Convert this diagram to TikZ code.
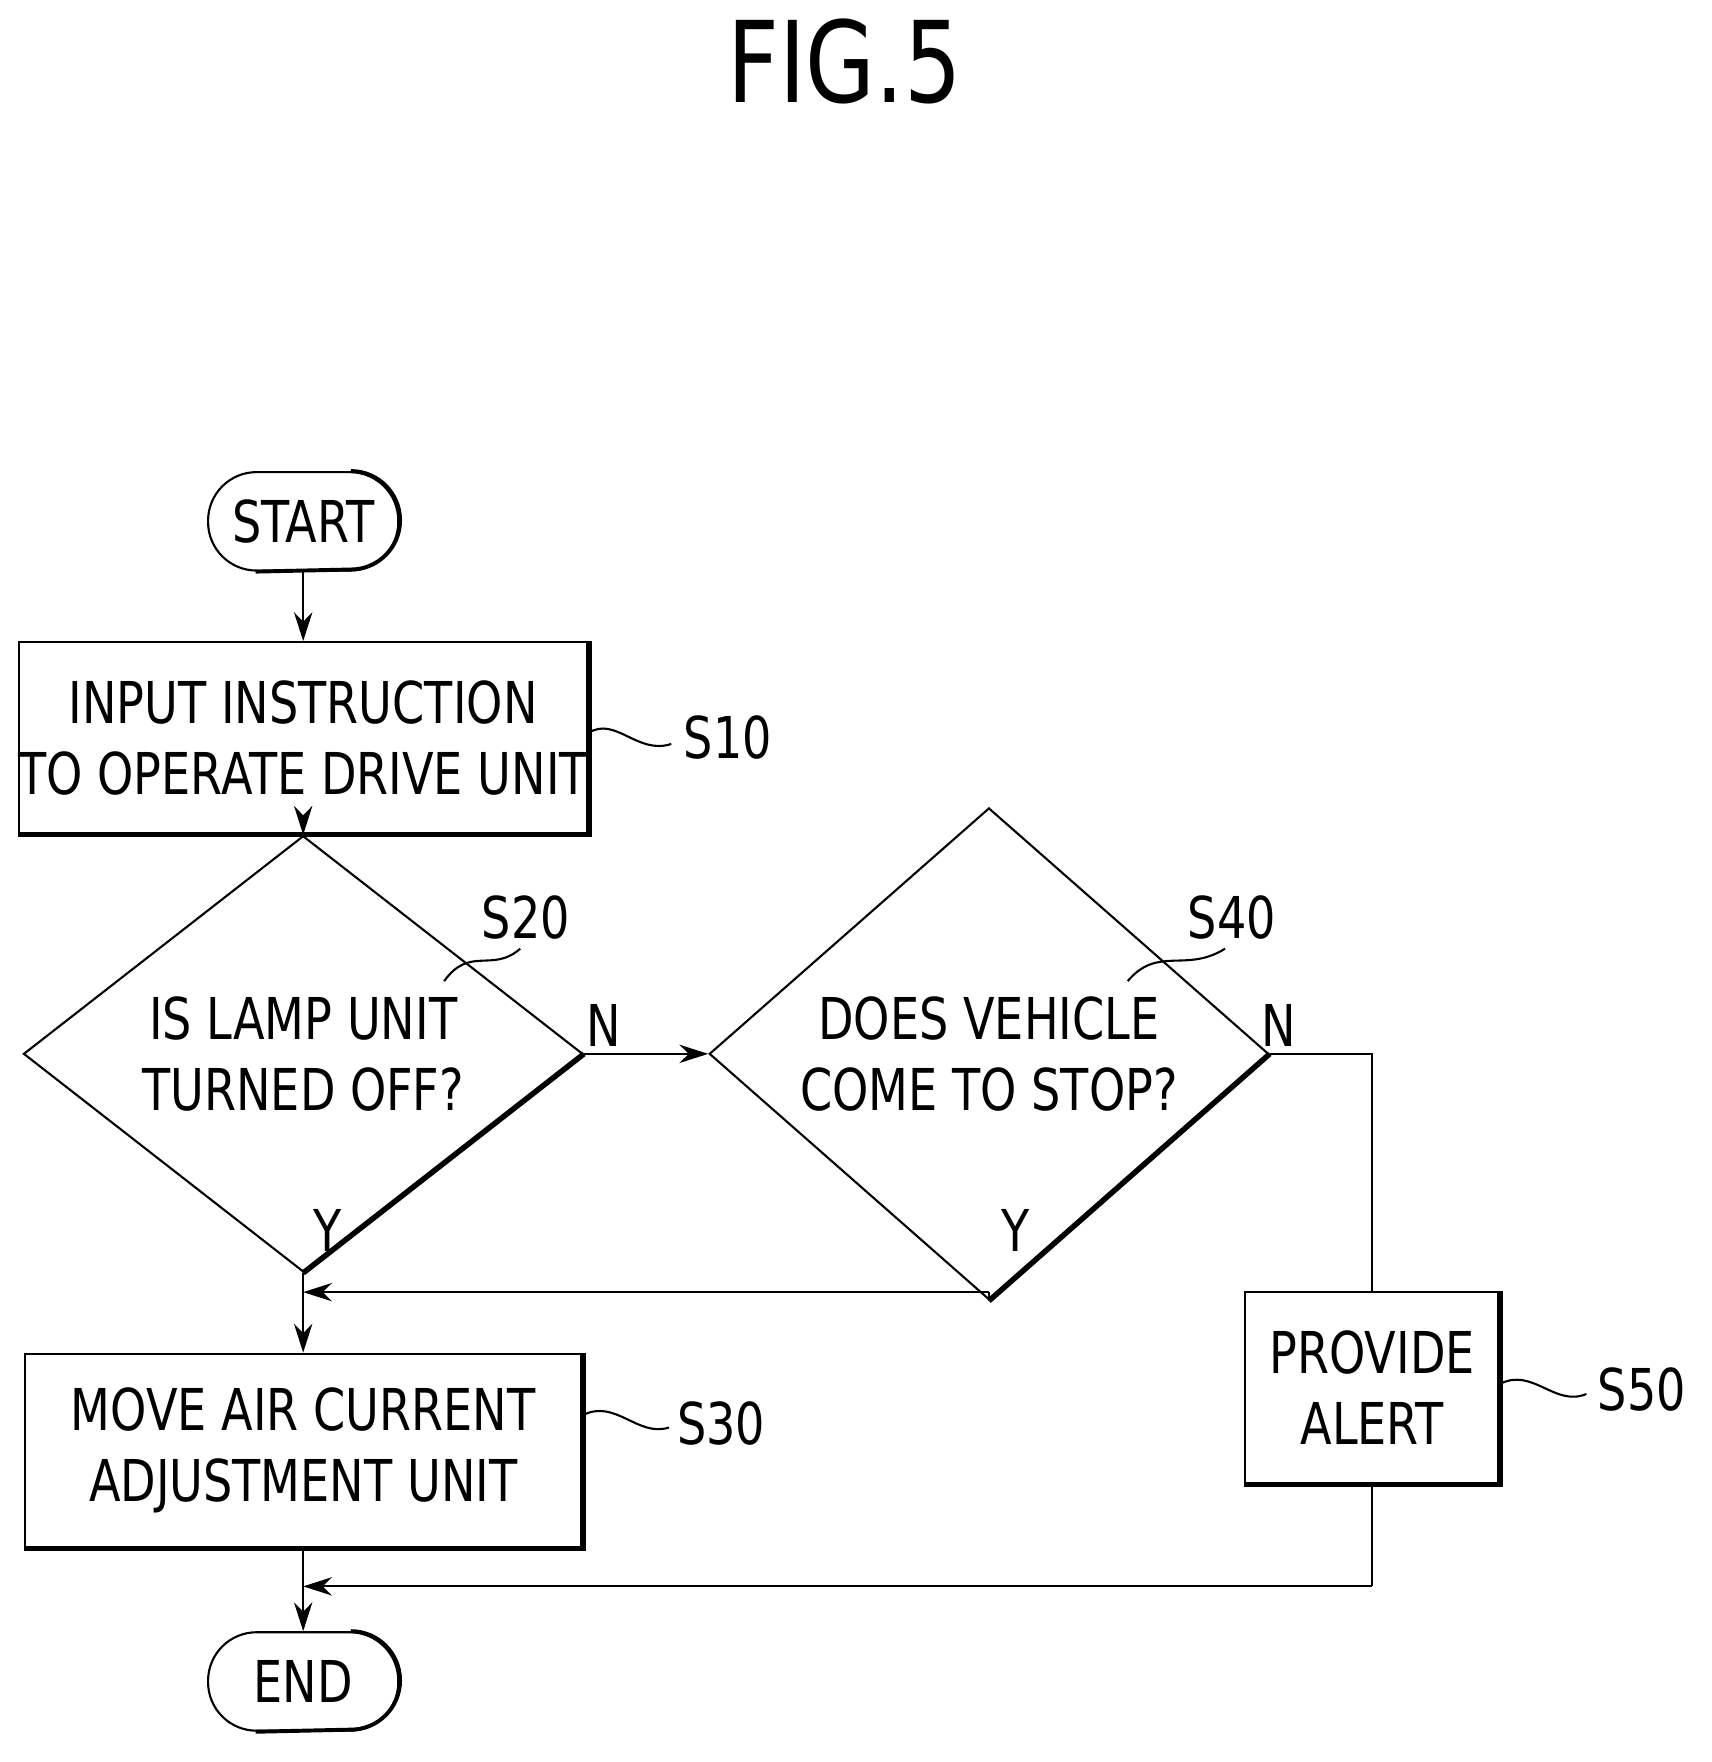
\documentclass[tikz,border=0pt]{standalone}
\usepackage{fontspec}
\setmainfont{DejaVu Sans}[FakeStretch=0.8]
\usetikzlibrary{shapes.geometric,arrows.meta}
\begin{document}
\begin{tikzpicture}[x=0.03cm,y=-0.03cm,
  thin line/.style={line width=1.6pt},
  thick line/.style={line width=4.2pt},
  txt/.style={font=\fontsize{44}{54}\selectfont,align=center},
  box/.style={draw,thin line,inner sep=0pt,txt},
  term/.style={draw,thin line,rounded corners=1.3cm,inner sep=0pt,minimum width=5.1cm,minimum height=2.64cm,txt},
  dia/.style={draw,diamond,thin line,inner sep=0pt,minimum width=15cm,minimum height=7.92cm,txt},
  arr/.style={thin line,-{Stealth[length=22pt,width=14pt]}},
  lbl/.style={font=\fontsize{44}{54}\selectfont,inner sep=0pt}]
\useasboundingbox (0,0) rectangle (1530,1575);
\node[font=\fontsize{86}{100}\selectfont] (fig) at (755,55) {FIG.5};
\node[term] (start) at (271,466) {START};
\node[box,minimum width=14.94cm,minimum height=5.13cm] (s10) at (271,659.5) {INPUT INSTRUCTION\\TO OPERATE DRIVE UNIT};
\node[dia] (s20) at (271,942) {IS LAMP UNIT\\TURNED OFF?};
\node[dia] (s40) at (884,942) {DOES VEHICLE\\COME TO STOP?};
\node[box,minimum width=14.94cm,minimum height=5.19cm] (s30) at (271,1296.5) {MOVE AIR CURRENT\\ADJUSTMENT UNIT};
\node[box,minimum width=6.81cm,minimum height=5.13cm] (s50) at (1226.5,1240.5) {PROVIDE\\ALERT};
\node[term] (end) at (271,1503) {END};
% shadows
\draw[thick line] (s10.north east)--(s10.south east)--(s10.south west);
\draw[thick line] (s30.north east)--(s30.south east)--(s30.south west);
\draw[thick line] (s50.north east)--(s50.south east)--(s50.south west);
\draw[thick line] (s20.east)--(s20.south);
\draw[thick line] (s40.east)--(s40.south);
\draw[line width=3pt] ([xshift=-1.3cm]start.north east) arc[start angle=90,end angle=-90,radius=1.32cm] -- ([xshift=1.3cm]start.south west);
\draw[line width=3pt] ([xshift=-1.3cm]end.north east) arc[start angle=90,end angle=-90,radius=1.32cm] -- ([xshift=1.3cm]end.south west);
% coordinates
\coordinate (j1) at (s20.south |- 0,1155);
\coordinate (c40) at (s40.south |- 0,1155);
\coordinate (c40n) at (s50.north |- s40.east);
\coordinate (j2) at (s30.south |- 0,1418);
\coordinate (c50) at (s50.south |- 0,1418);
% connectors
\draw[arr] (start) -- (s10);
\draw[arr] (s10) -- (s20);
\draw[arr] (s20.east) -- (s40.west);
\draw[thin line] (s40.east) -- (c40n) -- (s50.north);
\draw[thin line] (s40.south) -- (c40);
\draw[arr] (c40) -- (j1);
\draw[arr] (s20.south) -- (s30.north);
\draw[thin line] (s50.south) -- (c50);
\draw[arr] (c50) -- (j2);
\draw[arr] (s30.south) -- (end.north);
% labels
\node[lbl] (n1) at (540,917) {N};
\node[lbl] (n2) at (1143,917) {N};
\node[lbl] (y1) at (293,1100) {Y};
\node[lbl] (y2) at (908,1100) {Y};
\node[lbl,anchor=west] (l10) at (611,659) {S10};
\node[lbl] (l20) at (470,820) {S20};
\node[lbl] (l40) at (1101,820) {S40};
\node[lbl,anchor=west] (l30) at (605,1272) {S30};
\node[lbl,anchor=west] (l50) at (1428,1242) {S50};
% leaders
\draw[thin line] (s10.east |- 0,655) .. controls (550,640) and (570,675) .. (600,665);
\draw[thin line] (397,877) .. controls (420,845) and (440,870) .. (465,848);
\draw[thin line] (1008,877) .. controls (1035,845) and (1060,870) .. (1095,848);
\draw[thin line] (s30.east |- 0,1265) .. controls (550,1250) and (570,1285) .. (598,1276);
\draw[thin line] (s50.east |- 0,1237) .. controls (1370,1222) and (1390,1258) .. (1418,1246);
\end{tikzpicture}
\end{document}
